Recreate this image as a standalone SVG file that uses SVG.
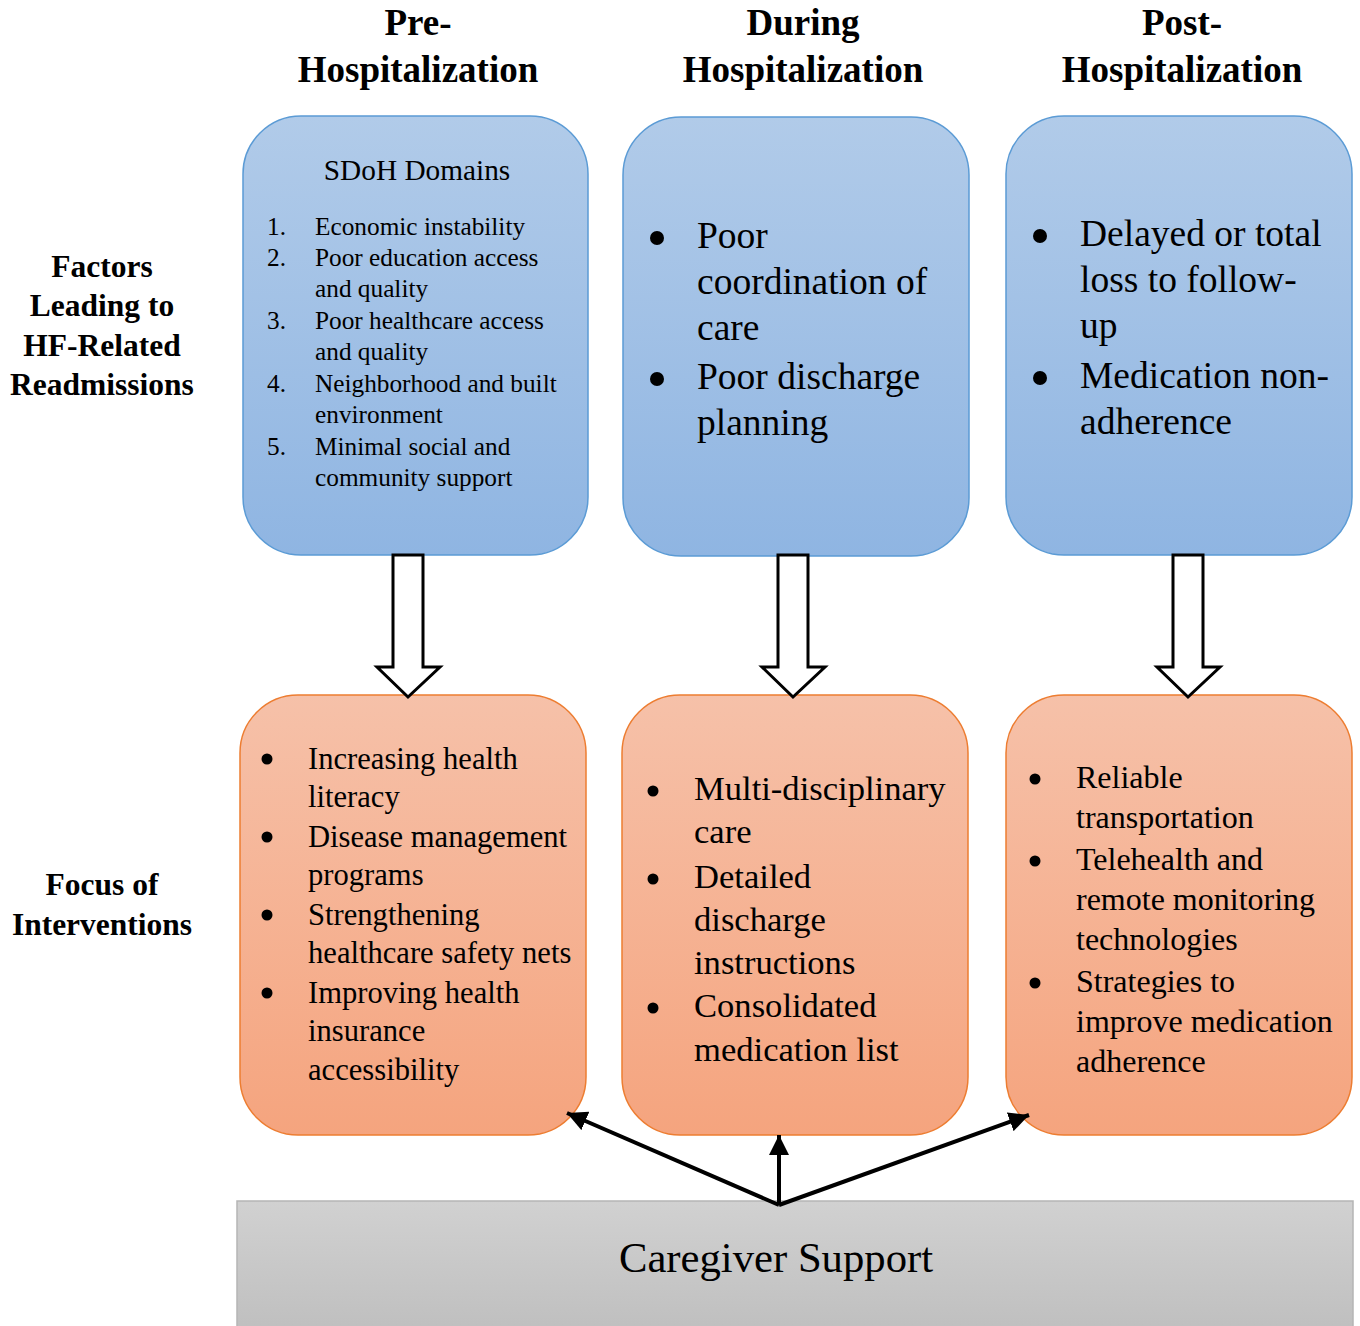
<svg xmlns="http://www.w3.org/2000/svg" width="1360" height="1326" viewBox="0 0 1360 1326">
<defs>
<linearGradient id="gBlue" x1="0" y1="0" x2="0" y2="1"><stop offset="0" stop-color="#b1cbe9"/><stop offset="1" stop-color="#8fb5e2"/></linearGradient>
<linearGradient id="gOrange" x1="0" y1="0" x2="0" y2="1"><stop offset="0" stop-color="#f6c1a9"/><stop offset="1" stop-color="#f5a47e"/></linearGradient>
<linearGradient id="gGray" x1="0" y1="0" x2="0" y2="1"><stop offset="0" stop-color="#d1d1d1"/><stop offset="1" stop-color="#bfbfbf"/></linearGradient>
<marker id="ah" viewBox="0 0 10 10" refX="10" refY="5" markerWidth="5" markerHeight="5" orient="auto" markerUnits="strokeWidth"><path d="M0,0 L10,5 L0,10 z" fill="#000"/></marker>
<style>
text{font-family:"Liberation Serif","Times New Roman",serif;fill:#000}
.hd{font-size:37px;font-weight:bold;text-anchor:middle}
.lb{font-size:31.5px;font-weight:bold;text-anchor:middle}
.blue{fill:url(#gBlue);stroke:#5b9bd5;stroke-width:1.5}
.org{fill:url(#gOrange);stroke:#ed7d31;stroke-width:1.5}
.blk{fill:#fff;stroke:#000;stroke-width:3}
.con{stroke:#000;stroke-width:4;fill:none;marker-end:url(#ah)}
.s25{font-size:25.3px}.s37{font-size:37.5px}.s30{font-size:30.6px}.s34{font-size:34.6px}.s32{font-size:32px}
</style>
</defs>
<rect width="1360" height="1326" fill="#fff"/>
<g id="headers">
<text class="hd" x="418" y="35">Pre-</text><text class="hd" x="418" y="82">Hospitalization</text>
<text class="hd" x="803" y="35">During</text><text class="hd" x="803" y="82">Hospitalization</text>
<text class="hd" x="1182" y="35">Post-</text><text class="hd" x="1182" y="82">Hospitalization</text>
</g>
<g id="label-factors">
<text class="lb" x="102" y="277">Factors</text><text class="lb" x="102" y="316">Leading to</text><text class="lb" x="102" y="356">HF-Related</text><text class="lb" x="102" y="395">Readmissions</text>
</g>
<g id="label-focus">
<text class="lb" x="102" y="895">Focus of</text><text class="lb" x="102" y="935">Interventions</text>
</g>
<g id="pre-factors">
<rect class="blue" x="243" y="116" width="345" height="439" rx="58"/>
<text x="417" y="180" font-size="29.3" text-anchor="middle">SDoH Domains</text>
<g class="s25">
<text x="267" y="235">1.</text><text x="315" y="235">Economic instability</text>
<text x="267" y="266">2.</text><text x="315" y="266">Poor education access</text><text x="315" y="297">and quality</text>
<text x="267" y="329">3.</text><text x="315" y="329">Poor healthcare access</text><text x="315" y="360">and quality</text>
<text x="267" y="392">4.</text><text x="315" y="392">Neighborhood and built</text><text x="315" y="423">environment</text>
<text x="267" y="455">5.</text><text x="315" y="455">Minimal social and</text><text x="315" y="486">community support</text>
</g>
</g>
<g id="during-factors">
<rect class="blue" x="623" y="117" width="346" height="439" rx="58"/>
<circle cx="657" cy="238" r="7"/><circle cx="657" cy="379" r="7"/>
<g class="s37">
<text x="697" y="248">Poor</text><text x="697" y="294">coordination of</text><text x="697" y="340">care</text>
<text x="697" y="389">Poor discharge</text><text x="697" y="435">planning</text>
</g>
</g>
<g id="post-factors">
<rect class="blue" x="1006" y="116" width="346" height="439" rx="58"/>
<circle cx="1040" cy="236" r="7"/><circle cx="1040" cy="378" r="7"/>
<g class="s37">
<text x="1080" y="246">Delayed or total</text><text x="1080" y="292">loss to follow-</text><text x="1080" y="338">up</text>
<text x="1080" y="388">Medication non-</text><text x="1080" y="434">adherence</text>
</g>
</g>
<g id="pre-interventions">
<rect class="org" x="240" y="695" width="346" height="440" rx="58"/>
<circle cx="267" cy="759" r="5.5"/><circle cx="267" cy="837" r="5.5"/><circle cx="267" cy="915" r="5.5"/><circle cx="267" cy="993" r="5.5"/>
<g class="s30">
<text x="308" y="769">Increasing health</text><text x="308" y="807">literacy</text>
<text x="308" y="847">Disease management</text><text x="308" y="885">programs</text>
<text x="308" y="925">Strengthening</text><text x="308" y="963">healthcare safety nets</text>
<text x="308" y="1003">Improving health</text><text x="308" y="1041">insurance</text><text x="308" y="1080">accessibility</text>
</g>
</g>
<g id="during-interventions">
<rect class="org" x="622" y="695" width="346" height="440" rx="58"/>
<circle cx="653" cy="791" r="5.5"/><circle cx="653" cy="879" r="5.5"/><circle cx="653" cy="1008" r="5.5"/>
<g class="s34">
<text x="694" y="800">Multi-disciplinary</text><text x="694" y="843">care</text>
<text x="694" y="888">Detailed</text><text x="694" y="931">discharge</text><text x="694" y="974">instructions</text>
<text x="694" y="1017">Consolidated</text><text x="694" y="1061">medication list</text>
</g>
</g>
<g id="post-interventions">
<rect class="org" x="1006" y="695" width="346" height="440" rx="58"/>
<circle cx="1035" cy="779" r="5.5"/><circle cx="1035" cy="861" r="5.5"/><circle cx="1035" cy="983" r="5.5"/>
<g class="s32">
<text x="1076" y="788">Reliable</text><text x="1076" y="828">transportation</text>
<text x="1076" y="870">Telehealth and</text><text x="1076" y="910">remote monitoring</text><text x="1076" y="950">technologies</text>
<text x="1076" y="992">Strategies to</text><text x="1076" y="1032">improve medication</text><text x="1076" y="1072">adherence</text>
</g>
</g>
<g id="caregiver-support">
<rect x="237" y="1201" width="1116" height="130" fill="url(#gGray)" stroke="#b5b5b5" stroke-width="1.5"/>
<text x="776" y="1272" font-size="42.7" text-anchor="middle">Caregiver Support</text>
</g>
<g id="connectors">
<path class="blk" d="M393,555 L423,555 L423,667 L440,667 L408,697 L377,667 L393,667 Z"/>
<path class="blk" d="M778,555 L808,555 L808,667 L825,667 L793,697 L762,667 L778,667 Z"/>
<path class="blk" d="M1173,555 L1203,555 L1203,667 L1220,667 L1188,697 L1157,667 L1173,667 Z"/>
<line class="con" x1="779" y1="1205" x2="567" y2="1113"/>
<line class="con" x1="779" y1="1205" x2="779" y2="1135"/>
<line class="con" x1="779" y1="1205" x2="1029" y2="1115"/>
</g>
</svg>
